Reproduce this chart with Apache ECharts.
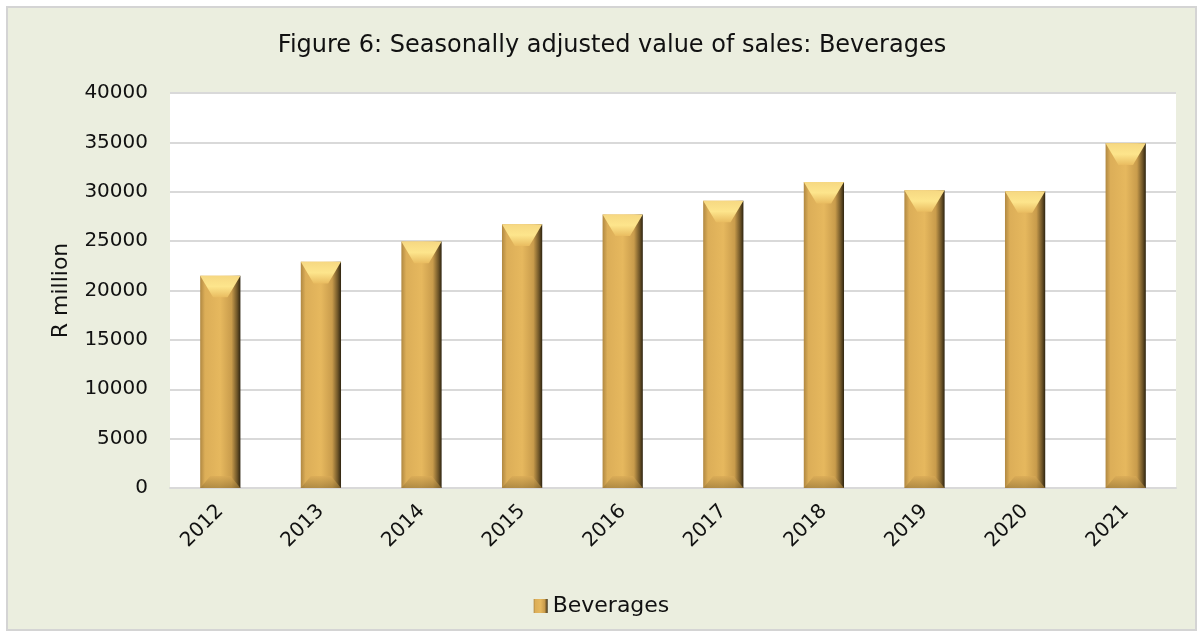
<!DOCTYPE html>
<html>
<head>
<meta charset="utf-8">
<script src="https://cdn.jsdelivr.net/npm/echarts@6/dist/echarts.min.js"></script>
<style>
  html, body { margin: 0; padding: 0; background: #ffffff; }
  #main { width: 1203px; height: 637px; }
</style>
</head>
<body>
<div id="main"></div>
<script>
// data
var years = ["2012", "2013", "2014", "2015", "2016", "2017", "2018", "2019", "2020", "2021"];
var beverages = [21500, 22900, 24950, 26700, 27700, 29100, 31000, 30150, 30050, 34900];
var yTicks = { min: 0, max: 40000, interval: 5000 };

var chart = echarts.init(document.getElementById("main"));
var FONT = "'DejaVu Sans', sans-serif";

// gold bar: side shading left->right
var sideGrad = new echarts.graphic.LinearGradient(0, 0, 1, 0, [
    { offset: 0, color: "#b08842" },
    { offset: 0.12, color: "#dcae58" },
    { offset: 0.5, color: "#e6b85e" },
    { offset: 0.78, color: "#c99c4c" },
    { offset: 0.92, color: "#6e5528" },
    { offset: 1, color: "#2e2410" }
]);
var capGrad = new echarts.graphic.LinearGradient(0, 0, 0, 1, [
    { offset: 0, color: "#f6d882" },
    { offset: 0.5, color: "#fde58c" },
    { offset: 1, color: "#e9bc60" }
]);
var bottomGrad = new echarts.graphic.LinearGradient(0, 0, 0, 1, [
    { offset: 0, color: "#d9aa56" },
    { offset: 1, color: "#9c7a3a" }
]);

function renderBar(params, api) {
    var x = api.value(0), v = api.value(1);
    var top = api.coord([x, v]);
    var base = api.coord([x, 0]);
    var bw = api.size([1, 0])[0] * 0.4;
    var l = top[0] - bw / 2, r = top[0] + bw / 2;
    var h = base[1] - top[1];
    var bev = Math.min(12, h / 3);
    return {
        type: "group",
        children: [
            { type: "rect", shape: { x: l, y: top[1], width: bw, height: h }, style: { fill: sideGrad } },
            { type: "polygon", shape: { points: [[l, top[1]], [r, top[1]], [r - bw * 0.32, top[1] + bev * 1.8], [l + bw * 0.32, top[1] + bev * 1.8]] }, style: { fill: capGrad } },
            { type: "polygon", shape: { points: [[l, base[1]], [r, base[1]], [r - bw * 0.25, base[1] - bev], [l + bw * 0.25, base[1] - bev]] }, style: { fill: bottomGrad, opacity: 0.7 } }
        ]
    };
}

var option = {
    backgroundColor: "#ffffff",
    textStyle: { fontFamily: FONT, color: "#000" },
    graphic: [{
        type: "rect", z: -10, silent: true,
        shape: { x: 7, y: 7, width: 1189, height: 623 },
        style: { fill: "#ebeedf", stroke: "#d4d4d4", lineWidth: 2 }
    }],
    title: {
        text: "Figure 6: Seasonally adjusted value of sales: Beverages",
        left: 607, top: 29, textAlign: "center",
        textStyle: { fontFamily: FONT, fontSize: 24, fontWeight: "normal", color: "#111" }
    },
    legend: {
        data: [{ name: "Beverages", icon: "rect", itemStyle: { color: sideGrad } }],
        left: "center", top: 590,
        itemWidth: 14, itemHeight: 14, itemGap: 4,
        textStyle: { fontFamily: FONT, fontSize: 22, color: "#111" }
    },
    grid: { left: 170, right: 27, top: 93, bottom: 149, backgroundColor: "#ffffff", show: true, borderWidth: 0 },
    xAxis: {
        type: "category",
        data: years,
        axisLine: { lineStyle: { color: "#d9d9d9", width: 2 } },
        axisTick: { show: false },
        axisLabel: { rotate: 45, fontSize: 20, color: "#111", fontFamily: FONT, margin: 20 }
    },
    yAxis: {
        type: "value",
        min: yTicks.min, max: yTicks.max, interval: yTicks.interval,
        name: "R million", nameLocation: "middle", nameGap: 98, nameRotate: 90,
        nameTextStyle: { fontSize: 22, color: "#111", fontFamily: FONT },
        axisLine: { show: false },
        axisTick: { show: false },
        axisLabel: { fontSize: 20, color: "#111", fontFamily: FONT, margin: 22, formatter: function (v) { return String(v); } },
        splitLine: { lineStyle: { color: "#d9d9d9", width: 2 } }
    },
    series: [{
        name: "Beverages",
        type: "custom",
        renderItem: renderBar,
        encode: { x: 0, y: 1 },
        data: years.map(function (y, i) { return [i, beverages[i]]; }),
        itemStyle: { color: "#e3b45c" }
    }]
};
chart.setOption(option);
</script>
</body>
</html>
